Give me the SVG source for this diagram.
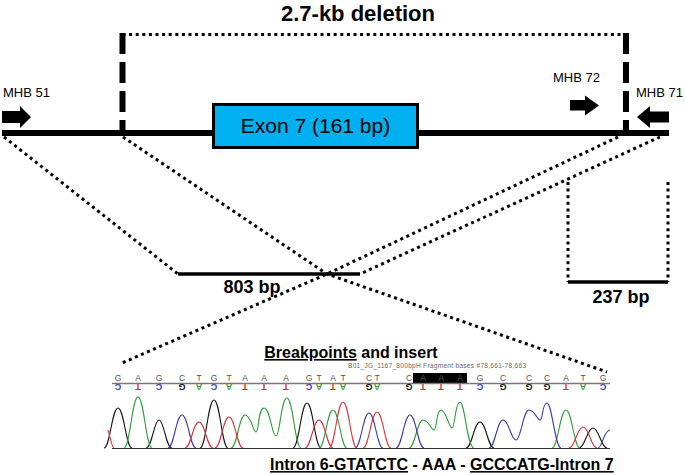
<svg xmlns="http://www.w3.org/2000/svg" width="685" height="475" viewBox="0 0 685 475">
<style>
  .t { font-family: "Liberation Sans", Arial, sans-serif; }
  .b { font-weight: bold; }
  .dot { fill: none; stroke: #000; stroke-width: 3; stroke-dasharray: 3 3.6; }
  .dash { fill: none; stroke: #000; stroke-width: 6; stroke-dasharray: 21 8; }
  .solid { fill: none; stroke: #000; stroke-width: 3.5; }
  .base { font-family: "Liberation Sans", Arial, sans-serif; font-size: 8.5px; fill: #555; text-anchor: middle; }
  .comp { font-family: "Liberation Sans", Arial, sans-serif; font-size: 9px; font-weight: bold; text-anchor: middle; }
  .pk { fill: none; stroke-width: 1.1; }
  .g { stroke: #111; } .a { stroke: #2e9a3a; } .c { stroke: #3a3aa8; } .tt { stroke: #d8303a; }
</style>

<!-- Title and deletion bracket -->
<g id="title">
  <text class="t b" x="358" y="21" font-size="22" text-anchor="middle">2.7-kb deletion</text>
</g>
<g id="deletion-bracket">
  <line class="dot" x1="122.5" y1="34.5" x2="626" y2="34.5"/>
  <line class="dash" x1="122.5" y1="33" x2="122.5" y2="133"/>
  <line class="dash" x1="626" y1="33" x2="626" y2="133"/>
</g>

<!-- Genomic line -->
<g id="main-line">
  <line x1="2" y1="133" x2="669" y2="133" stroke="#000" stroke-width="6"/>
</g>

<g id="exon7">
  <rect x="213.5" y="104.5" width="204" height="43" fill="#00b0f0" stroke="#000" stroke-width="3"/>
  <text class="t" x="315.5" y="133" font-size="21" text-anchor="middle">Exon 7 (161 bp)</text>
</g>

<g id="MHB51">
  <text class="t" x="3" y="97" font-size="13">MHB 51</text>
  <polygon points="2,111 20,111 20,106 31,117 20,128 20,123 2,123" fill="#000"/>
</g>
<g id="MHB72">
  <text class="t" x="553" y="82" font-size="13">MHB 72</text>
  <polygon points="570,100 585,100 585,95.5 599,105.5 585,115.5 585,110.5 570,110.5" fill="#000"/>
</g>
<g id="MHB71">
  <text class="t" x="636" y="97" font-size="13">MHB 71</text>
  <polygon points="669,111.5 650,111.5 650,106 637,117 650,128 650,122.5 669,122.5" fill="#000"/>
</g>

<!-- Connectors -->
<g id="connectors">
  <polyline class="dot" points="4,137 178,274"/>
  <polyline class="dot" points="123,137 327,274 607,372"/>
  <polyline class="dot" points="618,137 327,274 122,363"/>
  <polyline class="dot" points="660,137 360,274"/>
  <line class="dot" x1="568" y1="182" x2="568" y2="282"/>
  <line class="dot" x1="668" y1="182" x2="668" y2="282"/>
</g>

<g id="product-803">
  <line class="solid" x1="178" y1="274" x2="360" y2="274"/>
  <text class="t b" x="252" y="293" font-size="18" text-anchor="middle">803 bp</text>
</g>
<g id="product-237">
  <line class="solid" x1="568" y1="282" x2="668" y2="282"/>
  <text class="t b" x="621" y="303" font-size="18" text-anchor="middle">237 bp</text>
</g>

<!-- Chromatogram -->
<g id="chromatogram">
  <text class="t b" x="351" y="358" font-size="16" text-anchor="middle"><tspan text-decoration="underline">Breakpoints</tspan> and insert</text>
  <text class="t" x="348" y="368" font-size="6.5" fill="#666" textLength="178">B01_JG_1167_800bpH Fragment bases #78,661-78,663</text>
  <rect x="413" y="373" width="54" height="10" fill="#000"/>
  <line x1="112" y1="383.5" x2="610" y2="383.5" stroke="#777" stroke-width="1.5"/>
  <g id="bases">
    <text class="base" x="118" y="381">G</text>
    <text class="base" x="138" y="381">A</text>
    <text class="base" x="159" y="381">G</text>
    <text class="base" x="182" y="381">C</text>
    <text class="base" x="199" y="381">T</text>
    <text class="base" x="214" y="381">G</text>
    <text class="base" x="229" y="381">T</text>
    <text class="base" x="245" y="381">A</text>
    <text class="base" x="264" y="381">A</text>
    <text class="base" x="286" y="381">A</text>
    <text class="base" x="309" y="381">G</text>
    <text class="base" x="319" y="381">T</text>
    <text class="base" x="333" y="381">A</text>
    <text class="base" x="343" y="381">T</text>
    <text class="base" x="369" y="381">C</text>
    <text class="base" x="377" y="381">T</text>
    <text class="base" x="409" y="381">C</text>
    <text class="base" x="423" y="381" fill="#fff">A</text>
    <text class="base" x="441" y="381" fill="#fff">A</text>
    <text class="base" x="460" y="381" fill="#fff">A</text>
    <text class="base" x="480" y="381">G</text>
    <text class="base" x="503" y="381">C</text>
    <text class="base" x="529" y="381">C</text>
    <text class="base" x="547" y="381">C</text>
    <text class="base" x="566" y="381">A</text>
    <text class="base" x="583" y="381">T</text>
    <text class="base" x="603" y="381">G</text>
  </g>
  <g id="complement">
    <text class="comp" fill="#3a3aa8" x="118" y="384" transform="rotate(180 118 384)">C</text>
    <text class="comp" fill="#d8303a" x="138" y="384" transform="rotate(180 138 384)">T</text>
    <text class="comp" fill="#3a3aa8" x="159" y="384" transform="rotate(180 159 384)">C</text>
    <text class="comp" fill="#111" x="182" y="384" transform="rotate(180 182 384)">G</text>
    <text class="comp" fill="#2e9a3a" x="199" y="384" transform="rotate(180 199 384)">A</text>
    <text class="comp" fill="#3a3aa8" x="214" y="384" transform="rotate(180 214 384)">C</text>
    <text class="comp" fill="#2e9a3a" x="229" y="384" transform="rotate(180 229 384)">A</text>
    <text class="comp" fill="#d8303a" x="245" y="384" transform="rotate(180 245 384)">T</text>
    <text class="comp" fill="#d8303a" x="264" y="384" transform="rotate(180 264 384)">T</text>
    <text class="comp" fill="#d8303a" x="286" y="384" transform="rotate(180 286 384)">T</text>
    <text class="comp" fill="#3a3aa8" x="309" y="384" transform="rotate(180 309 384)">C</text>
    <text class="comp" fill="#2e9a3a" x="319" y="384" transform="rotate(180 319 384)">A</text>
    <text class="comp" fill="#d8303a" x="333" y="384" transform="rotate(180 333 384)">T</text>
    <text class="comp" fill="#2e9a3a" x="343" y="384" transform="rotate(180 343 384)">A</text>
    <text class="comp" fill="#111" x="369" y="384" transform="rotate(180 369 384)">G</text>
    <text class="comp" fill="#2e9a3a" x="377" y="384" transform="rotate(180 377 384)">A</text>
    <text class="comp" fill="#111" x="409" y="384" transform="rotate(180 409 384)">G</text>
    <text class="comp" fill="#d8303a" x="423" y="384" transform="rotate(180 423 384)">T</text>
    <text class="comp" fill="#d8303a" x="441" y="384" transform="rotate(180 441 384)">T</text>
    <text class="comp" fill="#d8303a" x="460" y="384" transform="rotate(180 460 384)">T</text>
    <text class="comp" fill="#3a3aa8" x="480" y="384" transform="rotate(180 480 384)">C</text>
    <text class="comp" fill="#111" x="503" y="384" transform="rotate(180 503 384)">G</text>
    <text class="comp" fill="#111" x="529" y="384" transform="rotate(180 529 384)">G</text>
    <text class="comp" fill="#111" x="547" y="384" transform="rotate(180 547 384)">G</text>
    <text class="comp" fill="#d8303a" x="566" y="384" transform="rotate(180 566 384)">T</text>
    <text class="comp" fill="#2e9a3a" x="583" y="384" transform="rotate(180 583 384)">A</text>
    <text class="comp" fill="#3a3aa8" x="603" y="384" transform="rotate(180 603 384)">C</text>
  </g>
  <g id="traces">
    <path class="pk g" d="M104,448 C110,448 112,408 118,408 C124,408 126,448 132,448 M146,448 C152,448 154,420 159,420 C164,420 166,448 172,448 M200,448 C206,448 208,400 214,400 C220,400 222,448 228,448 M293,448 C299,448 301,403 307,403 C313,403 315,448 321,448 M466,448 C472,448 474,422 480,422 C486,422 488,448 494,448 M579,448 C585,448 587,428 593,428 C599,428 601,448 607,448"/>
    <path class="pk a" d="M124,448 C130,448 132,397 138,397 C144,397 146,448 152,448 M231,448 C237,448 239,415 245,415 C251,415 253,432 256,432 C259,432 258,408 264,408 C270,408 272,436 276,436 C280,436 281,398 287,398 C293,398 295,448 301,448 M319,448 C325,448 327,410 333,410 C339,410 341,448 347,448 M409,448 C415,448 417,420 423,420 C429,420 431,430 434,430 C437,430 436,410 441,410 C446,410 449,428 452,428 C455,428 455,402 460,402 C465,402 467,448 474,448 M552,448 C558,448 560,410 566,410 C572,410 574,448 580,448"/>
    <path class="pk c" d="M168,448 C174,448 176,415 182,415 C188,415 190,448 196,448 M355,448 C361,448 363,413 369,413 C375,413 377,448 383,448 M396,448 C402,448 404,415 410,415 C416,415 418,448 424,448 M489,448 C495,448 497,420 503,420 C509,420 511,440 516,440 C521,440 523,410 529,410 C535,410 537,420 540,420 C543,420 542,403 547,403 C552,403 555,448 561,448 M598,448 C602,448 604,430 610,430"/>
    <path class="pk tt" d="M108,430 C111,440 112,448 114,448 M185,448 C191,448 193,422 199,422 C205,422 207,448 213,448 M215,448 C221,448 223,417 229,417 C235,417 237,448 243,448 M305,448 C311,448 313,420 319,420 C325,420 327,448 333,448 M329,448 C335,448 337,402 343,402 C349,402 351,448 357,448 M363,448 C369,448 371,412 377,412 C383,412 385,448 391,448 M569,448 C575,448 577,427 583,427 C589,427 591,448 597,448"/>
  </g>
  <line x1="112" y1="448.5" x2="610" y2="448.5" stroke="#333" stroke-width="1"/>
  <text class="t b" x="270" y="470" font-size="16"><tspan text-decoration="underline">Intron 6-GTATCTC</tspan> - AAA - <tspan text-decoration="underline">GCCCATG-Intron 7</tspan></text>
</g>
</svg>
